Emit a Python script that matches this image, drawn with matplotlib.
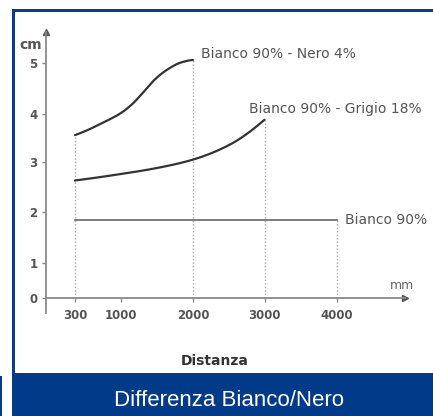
import numpy as np
import matplotlib
matplotlib.use("Agg")
import matplotlib.pyplot as plt
from matplotlib.patches import Rectangle

# ---- data ----
x_ticks = [300, 1000, 2000, 3000, 4000]
y_ticks = [0, 1, 2, 3, 4, 5]

nero_x = [300, 500, 680, 830, 1000, 1153, 1306, 1472, 1653, 1833, 2000]
nero_y = [3.56, 3.67, 3.79, 3.89, 4.02, 4.19, 4.42, 4.68, 4.88, 5.01, 5.06]

grigio_x = [300, 1000, 1500, 2000, 2500, 3000]
grigio_y = [2.63, 2.76, 2.88, 3.05, 3.35, 3.88]

bianco_x = [300, 4000]
bianco_y = [1.84, 1.84]

label_nero = "Bianco 90% - Nero 4%"
label_grigio = "Bianco 90% - Grigio 18%"
label_bianco = "Bianco 90%"

# ---- axis scale anchors (non-uniform axes of the original drawing) ----
x_anchor_val = np.array([0, 300, 1000, 2000, 3000, 4000, 5000], float)
x_anchor_pos = np.array([0, 29, 75, 147, 218.5, 290.5, 362.5], float)
y_anchor_val = np.array([-1, 0, 1, 2, 3, 4, 5, 6], float)
y_anchor_pos = np.array([-35, 0, 35, 86, 136, 184, 235, 286], float)


def make_fwd(v, p):
    def f(a):
        a = np.asarray(a, float)
        out = np.interp(a, v, p)
        out = np.where(a < v[0], p[0] + (a - v[0]) * (p[1] - p[0]) / (v[1] - v[0]), out)
        out = np.where(a > v[-1], p[-1] + (a - v[-1]) * (p[-1] - p[-2]) / (v[-1] - v[-2]), out)
        return out
    return f


fxs = make_fwd(x_anchor_val, x_anchor_pos)
fxi = make_fwd(x_anchor_pos, x_anchor_val)
fys = make_fwd(y_anchor_val, y_anchor_pos)
fyi = make_fwd(y_anchor_pos, y_anchor_val)

W, H = 433, 416
fig = plt.figure(figsize=(W / 100, H / 100), dpi=100)
fig.patch.set_facecolor("white")

left, right, top, bottom = 46, 405, 32, 313
ax = fig.add_axes([left / W, 1 - bottom / H, (right - left) / W, (bottom - top) / H])
ax.set_facecolor("none")
ax.set_xscale("function", functions=(fxs, fxi))
ax.set_yscale("function", functions=(fys, fyi))
ax.set_xlim(0, float(fxi(right - left)))
ax.set_ylim(float(fyi(-15)), float(fyi(266)))

axis_col = "#8a8a8a"
for s in ["top", "right"]:
    ax.spines[s].set_visible(False)
for s in ["left", "bottom"]:
    ax.spines[s].set_color(axis_col)
    ax.spines[s].set_linewidth(1.3)
ax.spines["bottom"].set_position(("data", 0))

ax.plot([1], [0], marker=">", color="#555555", markersize=4,
        transform=ax.get_yaxis_transform(), clip_on=False)
ax.plot([0], [1], marker="^", color="#555555", markersize=4,
        transform=ax.get_xaxis_transform(), clip_on=False)

ax.set_xticks(x_ticks)
ax.set_xticklabels([str(v) for v in x_ticks])
ax.set_yticks(y_ticks)
ax.set_yticklabels([str(v) for v in y_ticks])
ax.tick_params(axis="both", colors=axis_col, length=3, width=1, direction="out")
ax.tick_params(axis="x", pad=5)
ax.tick_params(axis="y", pad=3)
for lab in ax.get_xticklabels() + ax.get_yticklabels():
    lab.set_color("#555555")
    lab.set_fontweight("bold")
    lab.set_fontsize(8.5)
ax.minorticks_off()

dot_col = "#a8a8a8"
dls = (0, (1, 1.5))
ax.vlines([nero_x[0]], 0, nero_y[0], colors=dot_col, linestyles=dls, lw=1)
ax.vlines([nero_x[-1]], 0, nero_y[-1], colors=dot_col, linestyles=dls, lw=1)
ax.vlines([grigio_x[-1]], 0, grigio_y[-1], colors=dot_col, linestyles=dls, lw=1)
ax.vlines([bianco_x[-1]], 0, bianco_y[-1], colors=dot_col, linestyles=dls, lw=1)


def pchip(xs, ys, per=30):
    # monotone cubic (Fritsch-Carlson) in the axes' scaled (pixel-linear) space
    X = fxs(xs)
    Y = fys(ys)
    h = np.diff(X)
    d = np.diff(Y) / h
    n = len(X)
    m = np.zeros(n)
    for k in range(1, n - 1):
        if d[k - 1] * d[k] > 0:
            w1 = 2 * h[k] + h[k - 1]
            w2 = h[k] + 2 * h[k - 1]
            m[k] = (w1 + w2) / (w1 / d[k - 1] + w2 / d[k])
    m[0] = ((2 * h[0] + h[1]) * d[0] - h[0] * d[1]) / (h[0] + h[1])
    if np.sign(m[0]) != np.sign(d[0]):
        m[0] = 0
    m[-1] = ((2 * h[-1] + h[-2]) * d[-1] - h[-1] * d[-2]) / (h[-1] + h[-2])
    if np.sign(m[-1]) != np.sign(d[-1]):
        m[-1] = 0
    ox, oy = [], []
    for k in range(n - 1):
        t = np.linspace(0, 1, per, endpoint=False)
        h00 = 2 * t**3 - 3 * t**2 + 1
        h10 = t**3 - 2 * t**2 + t
        h01 = -2 * t**3 + 3 * t**2
        h11 = t**3 - t**2
        ox.append(X[k] + t * h[k])
        oy.append(h00 * Y[k] + h10 * h[k] * m[k] + h01 * Y[k + 1] + h11 * h[k] * m[k + 1])
    ox.append([X[-1]])
    oy.append([Y[-1]])
    return fxi(np.concatenate(ox)), fyi(np.concatenate(oy))


sx, sy = pchip(nero_x, nero_y)
ax.plot(sx, sy, color="#333333", lw=1.6, solid_capstyle="round")
sx, sy = pchip(grigio_x, grigio_y)
ax.plot(sx, sy, color="#333333", lw=1.6, solid_capstyle="round")
ax.plot(bianco_x, bianco_y, color="#666666", lw=1.2)

txt_col = "#555555"
fs_lab = 10
ax.annotate(label_nero, xy=(nero_x[-1], nero_y[-1]), xytext=(6, -1),
            textcoords="offset points", fontsize=fs_lab, color=txt_col, va="bottom", ha="left")
ax.annotate(label_grigio, xy=(grigio_x[-1], grigio_y[-1]), xytext=(-11, 3),
            textcoords="offset points", fontsize=fs_lab, color=txt_col, va="bottom", ha="left")
ax.annotate(label_bianco, xy=(bianco_x[-1], bianco_y[-1]), xytext=(6, 0),
            textcoords="offset points", fontsize=fs_lab, color=txt_col, va="center", ha="left")

ax.annotate("cm", xy=(0, 5), xycoords=("axes fraction", "data"), xytext=(-3, 8),
            textcoords="offset points", ha="right", va="bottom",
            fontsize=10, fontweight="bold", color="#555555")
ax.annotate("mm", xy=(1, 0), xycoords=("axes fraction", "data"), xytext=(-2, 4),
            textcoords="offset points", ha="center", va="bottom",
            fontsize=9, color="#666666")

fig.text(215 / W, 1 - 361 / H, "Distanza", ha="center", va="center",
         fontsize=10, fontweight="bold", color="#333333")

blue = "#0a3c8f"
fig.patches.append(Rectangle((12 / W, 1 - 373 / H), 3 / W, 364 / H,
                             transform=fig.transFigure, color=blue, lw=0))
fig.patches.append(Rectangle((12 / W, 1 - 12 / H), (W - 12) / W, 3 / H,
                             transform=fig.transFigure, color=blue, lw=0))
fig.patches.append(Rectangle((12 / W, 0), (W - 12) / W, (H - 373) / H,
                             transform=fig.transFigure, color="#023a8a", lw=0))
fig.patches.append(Rectangle((0, 0), 2 / W, (H - 376) / H,
                             transform=fig.transFigure, color="#023a8a", lw=0))
fig.text(229 / W, 1 - 400 / H, "Differenza Bianco/Nero", ha="center", va="center",
         fontsize=16, color="white", family="Liberation Sans")

fig.savefig("out.png", dpi=100, facecolor="white")
